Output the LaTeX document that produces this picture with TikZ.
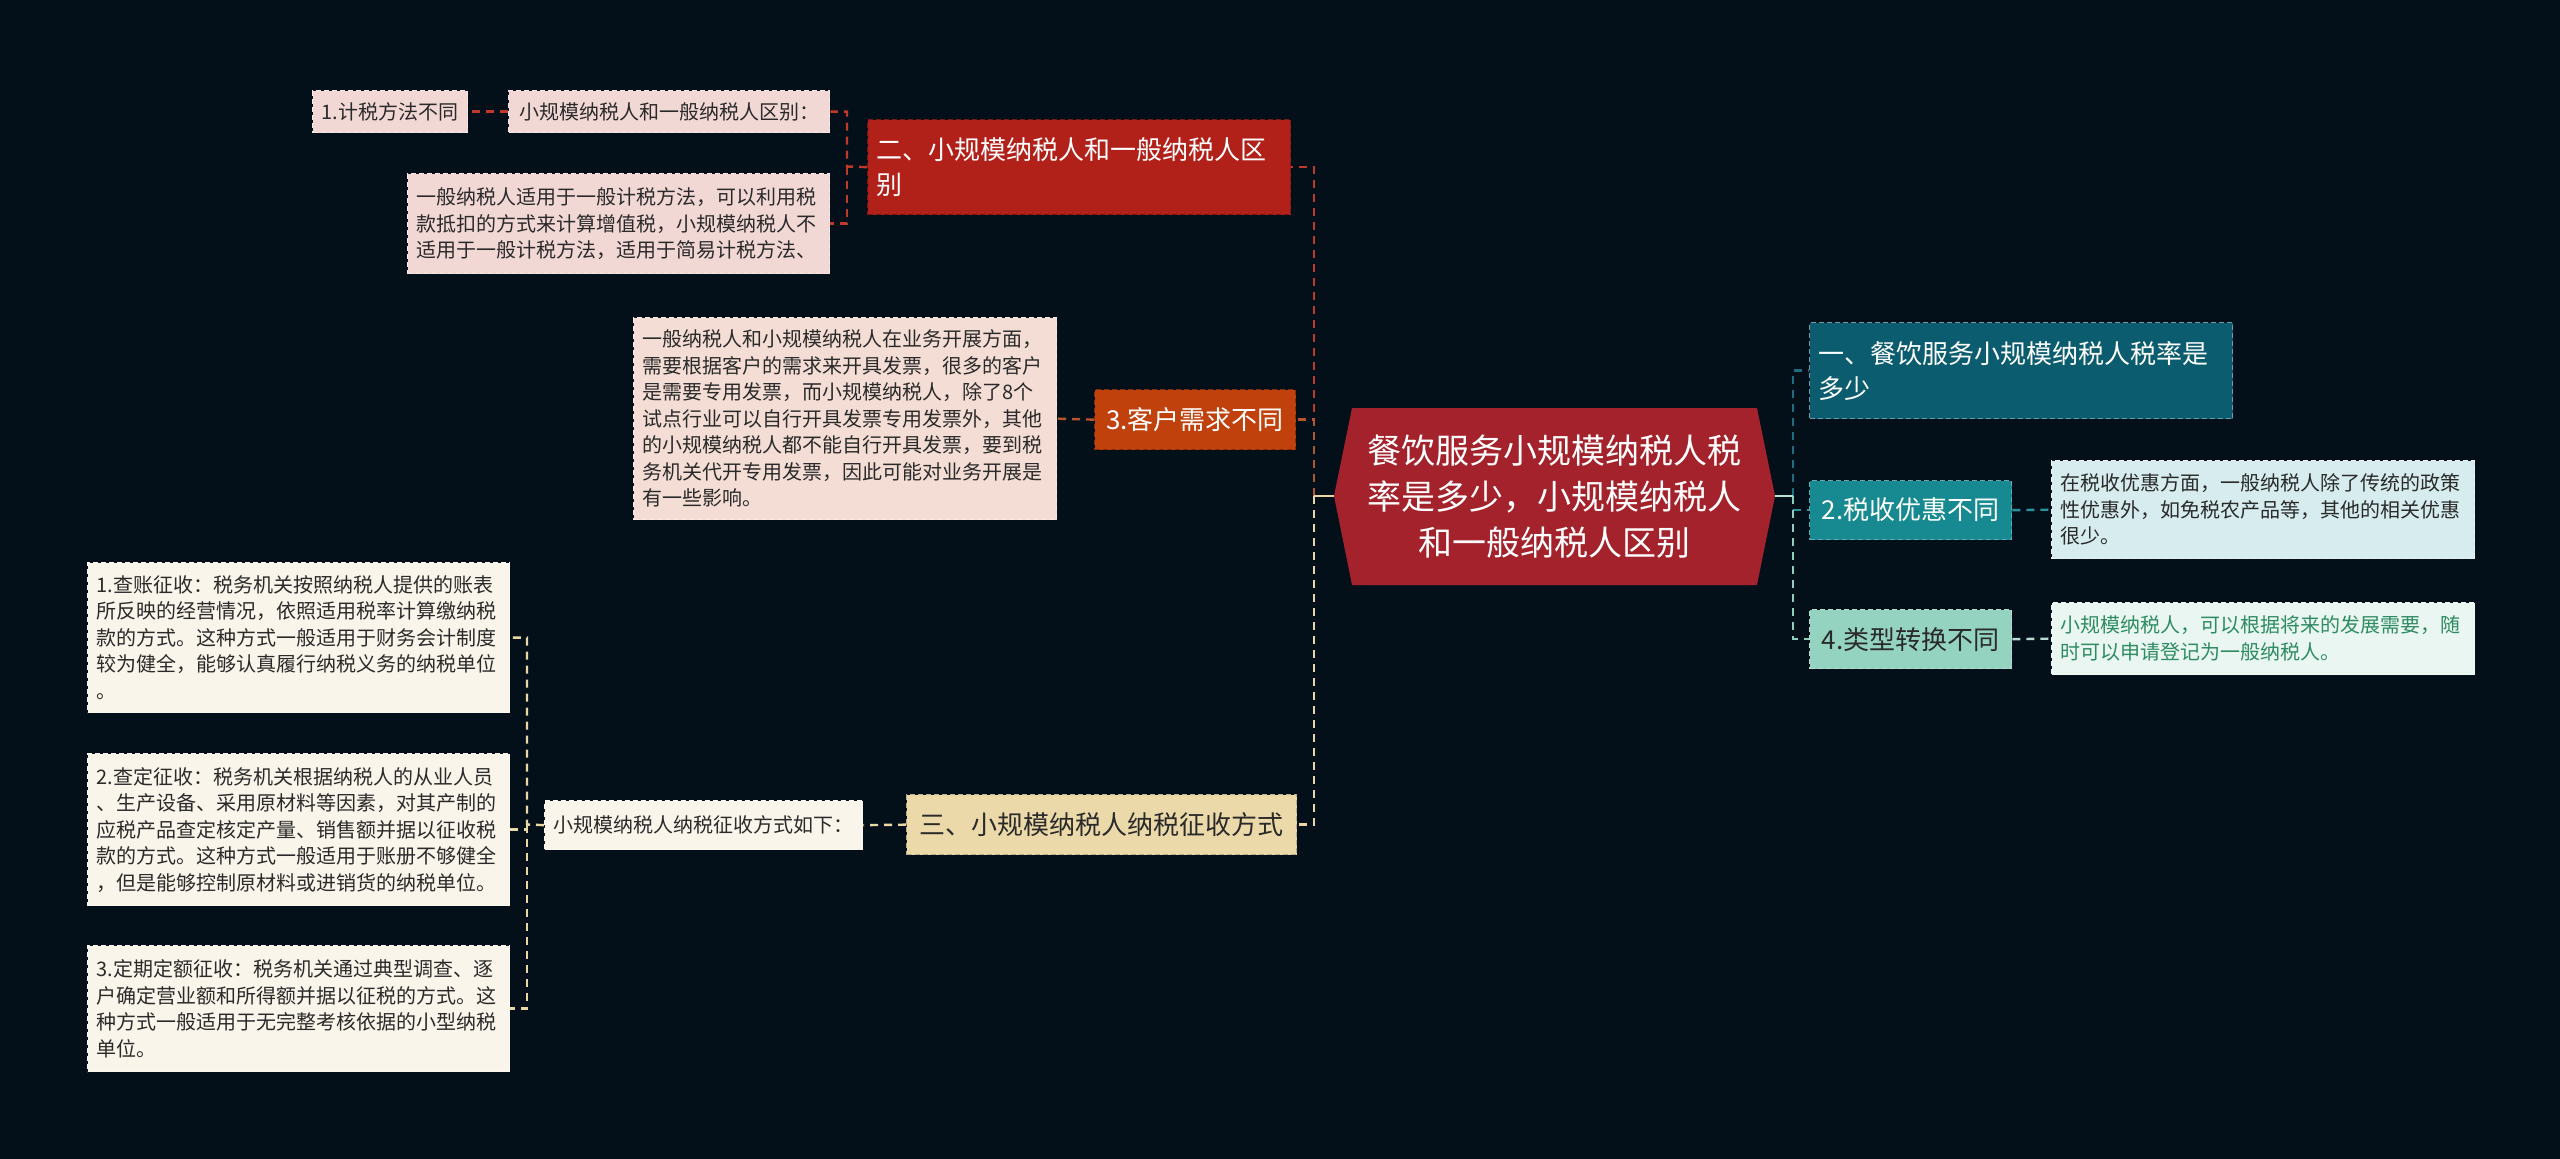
\documentclass[tikz,border=0pt]{standalone}
\usepackage{fontspec}
\setmainfont{Noto Sans CJK SC}
\definecolor{bg}{HTML}{03101A}
\definecolor{rootred}{HTML}{A3222B}
\definecolor{redA}{HTML}{B2201A}
\definecolor{orangeA}{HTML}{C1410D}
\definecolor{tanA}{HTML}{EBD9A9}
\definecolor{pinkA}{HTML}{F2D8D5}
\definecolor{pinkB}{HTML}{F3DDD4}
\definecolor{creamA}{HTML}{FAF5EA}
\definecolor{tealA}{HTML}{0B5C6E}
\definecolor{tealB}{HTML}{168A90}
\definecolor{mintA}{HTML}{93D3BF}
\definecolor{cyanL}{HTML}{D6ECEE}
\definecolor{mintL}{HTML}{EAF6F2}
\definecolor{txtdark}{HTML}{2A2A2A}
\definecolor{txtgreen}{HTML}{2E8B62}
\definecolor{cRed}{HTML}{C0392B}
\definecolor{cOrange}{HTML}{B5562C}
\definecolor{cCream}{HTML}{E9D7A5}
\definecolor{cTealD}{HTML}{1F6E7E}
\definecolor{cTeal}{HTML}{2A929A}
\definecolor{cMint}{HTML}{8CCFBB}
\definecolor{cGrey}{HTML}{B8D8D0}
\tikzset{
  box/.style={rectangle, dash pattern=on 5pt off 3pt, line width=1.3pt, inner ysep=0pt, anchor=north west},
  multi/.style={box, inner xsep=9pt, align=left},
  single/.style={box, inner xsep=0pt, align=center},
  leaffont/.style={font=\fontsize{20}{26.5}\selectfont},
  midfont/.style={font=\fontsize{26}{35}\selectfont},
  conn/.style={line width=2.4pt, dash pattern=on 8pt off 6pt},
}
\begin{document}
\begin{tikzpicture}[x=1pt,y=-1pt]
\fill[bg] (0,0) rectangle (2560,1159);
\useasboundingbox (0,0) rectangle (2560,1159);

% root
\fill[rootred] (1334,496) -- (1352,408) -- (1757,408) -- (1775,496) -- (1757,585) -- (1352,585) -- cycle;
\node[font=\fontsize{34}{46}\selectfont, text=white, align=center] (root) at (1554,497)
  {餐饮服务小规模纳税人税\\率是多少，小规模纳税人\\和一般纳税人区别};
\coordinate (rootL) at (1334,496);
\coordinate (rootR) at (1775,496);
\coordinate (LX) at (1314,496);
\coordinate (RX) at (1793,496);

% left branch: 二
\node[multi, midfont, fill=redA, draw=redA!70!black, text=white, text width=405pt, minimum height=95pt] (n4) at (867,119)
  {二、小规模纳税人和一般纳税人区\\别};
\node[single, leaffont, fill=pinkA, draw=pinkA!60!white, text=txtdark, minimum width=321pt, minimum height=42pt] (n2) at (508,90)
  {小规模纳税人和一般纳税人区别：};
\node[single, leaffont, fill=pinkA, draw=pinkA!60!white, text=txtdark, minimum width=155pt, minimum height=42pt] (n1) at (312,90)
  {1.计税方法不同};
\node[multi, leaffont, fill=pinkA, draw=pinkA!60!white, text=txtdark, text width=404pt, minimum height=100pt] (n3) at (407,173)
  {一般纳税人适用于一般计税方法，可以利用税\\款抵扣的方式来计算增值税，小规模纳税人不\\适用于一般计税方法，适用于简易计税方法、};

% 3.客户需求不同
\node[single, midfont, fill=orangeA, draw=orangeA!70!black, text=white, minimum width=201pt, minimum height=60pt] (n5) at (1094,389)
  {3.客户需求不同};
\node[multi, leaffont, fill=pinkB, draw=pinkB!60!white, text=txtdark, text width=405pt, minimum height=202pt] (n6) at (633,317)
  {一般纳税人和小规模纳税人在业务开展方面，\\需要根据客户的需求来开具发票，很多的客户\\是需要专用发票，而小规模纳税人，除了8个\\试点行业可以自行开具发票专用发票外，其他\\的小规模纳税人都不能自行开具发票，要到税\\务机关代开专用发票，因此可能对业务开展是\\有一些影响。};

% 三
\node[single, midfont, fill=tanA, draw=tanA!80!black, text=txtdark, minimum width=390pt, minimum height=60pt] (n7) at (906,794)
  {三、小规模纳税人纳税征收方式};
\node[single, leaffont, fill=creamA, draw=creamA!60!white, text=txtdark, minimum width=318pt, minimum height=49pt] (n8) at (544,800)
  {小规模纳税人纳税征收方式如下：};
\node[multi, leaffont, fill=creamA, draw=creamA!60!white, text=txtdark, text width=404pt, minimum height=150pt] (n9) at (87,562)
  {1.查账征收：税务机关按照纳税人提供的账表\\所反映的经营情况，依照适用税率计算缴纳税\\款的方式。这种方式一般适用于财务会计制度\\较为健全，能够认真履行纳税义务的纳税单位\\。};
\node[multi, leaffont, fill=creamA, draw=creamA!60!white, text=txtdark, text width=404pt, minimum height=152pt] (n10) at (87,753)
  {2.查定征收：税务机关根据纳税人的从业人员\\、生产设备、采用原材料等因素，对其产制的\\应税产品查定核定产量、销售额并据以征收税\\款的方式。这种方式一般适用于账册不够健全\\，但是能够控制原材料或进销货的纳税单位。};
\node[multi, leaffont, fill=creamA, draw=creamA!60!white, text=txtdark, text width=404pt, minimum height=126pt] (n11) at (87,945)
  {3.定期定额征收：税务机关通过典型调查、逐\\户确定营业额和所得额并据以征税的方式。这\\种方式一般适用于无完整考核依据的小型纳税\\单位。};

% right branch
\node[multi, midfont, fill=tealA, draw=tealA!60!white, text=white, text width=405pt, minimum height=96pt] (r1) at (1809,322)
  {一、餐饮服务小规模纳税人税率是\\多少};
\node[single, midfont, fill=tealB, draw=tealB!70!white, text=white, minimum width=202pt, minimum height=59pt] (r2) at (1809,480)
  {2.税收优惠不同};
\node[multi, leaffont, fill=cyanL, draw=cyanL!50!white, text=txtdark, text width=405pt, minimum height=98pt] (r3) at (2051,460)
  {在税收优惠方面，一般纳税人除了传统的政策\\性优惠外，如免税农产品等，其他的相关优惠\\很少。};
\node[single, midfont, fill=mintA, draw=mintA!70!white, text=txtdark, minimum width=202pt, minimum height=59pt] (r4) at (1809,609)
  {4.类型转换不同};
\node[multi, leaffont, fill=mintL, draw=mintL!50!white, text=txtgreen, text width=405pt, minimum height=72pt] (r5) at (2051,602)
  {小规模纳税人，可以根据将来的发展需要，随\\时可以申请登记为一般纳税人。};

% connectors left
\coordinate (AX) at (847,166.5);
\coordinate (BX) at (527,824.5);
\draw[conn, cRed] (LX) |- (n4.east);
\draw[conn, cOrange] (LX) |- (n5.east);
\draw[conn, cCream] (LX) |- (n7.east);
\draw[line width=2.4pt, cCream] (rootL) -- (LX);
\draw[conn, cRed] (n4.west) -- (AX) |- (n2.east);
\draw[conn, cRed] (AX) |- (n3.east);
\draw[conn, cRed] (n2.west) -- (n1.east);
\draw[conn, cOrange] (n5.west) -- (n6.east);
\draw[conn, cCream] (n7.west) -- (n8.west -| n7.west) (n7.west) -- (n8.east);
\draw[conn, cCream] (n8.west) -- (BX) |- (n9.east);
\draw[conn, cCream] (BX) |- (n10.east);
\draw[conn, cCream] (BX) |- (n11.east);

% connectors right
\draw[conn, cTealD] (RX) |- (r1.west);
\draw[conn, cTeal] (RX) |- (r2.west);
\draw[conn, cMint] (RX) |- (r4.west);
\draw[line width=2.4pt, cMint!60!white] (rootR) -- (RX);
\draw[conn, cTeal] (r2.east) -- (r3.west);
\draw[conn, cGrey] (r4.east) -- (r5.west);
\end{tikzpicture}
\end{document}
